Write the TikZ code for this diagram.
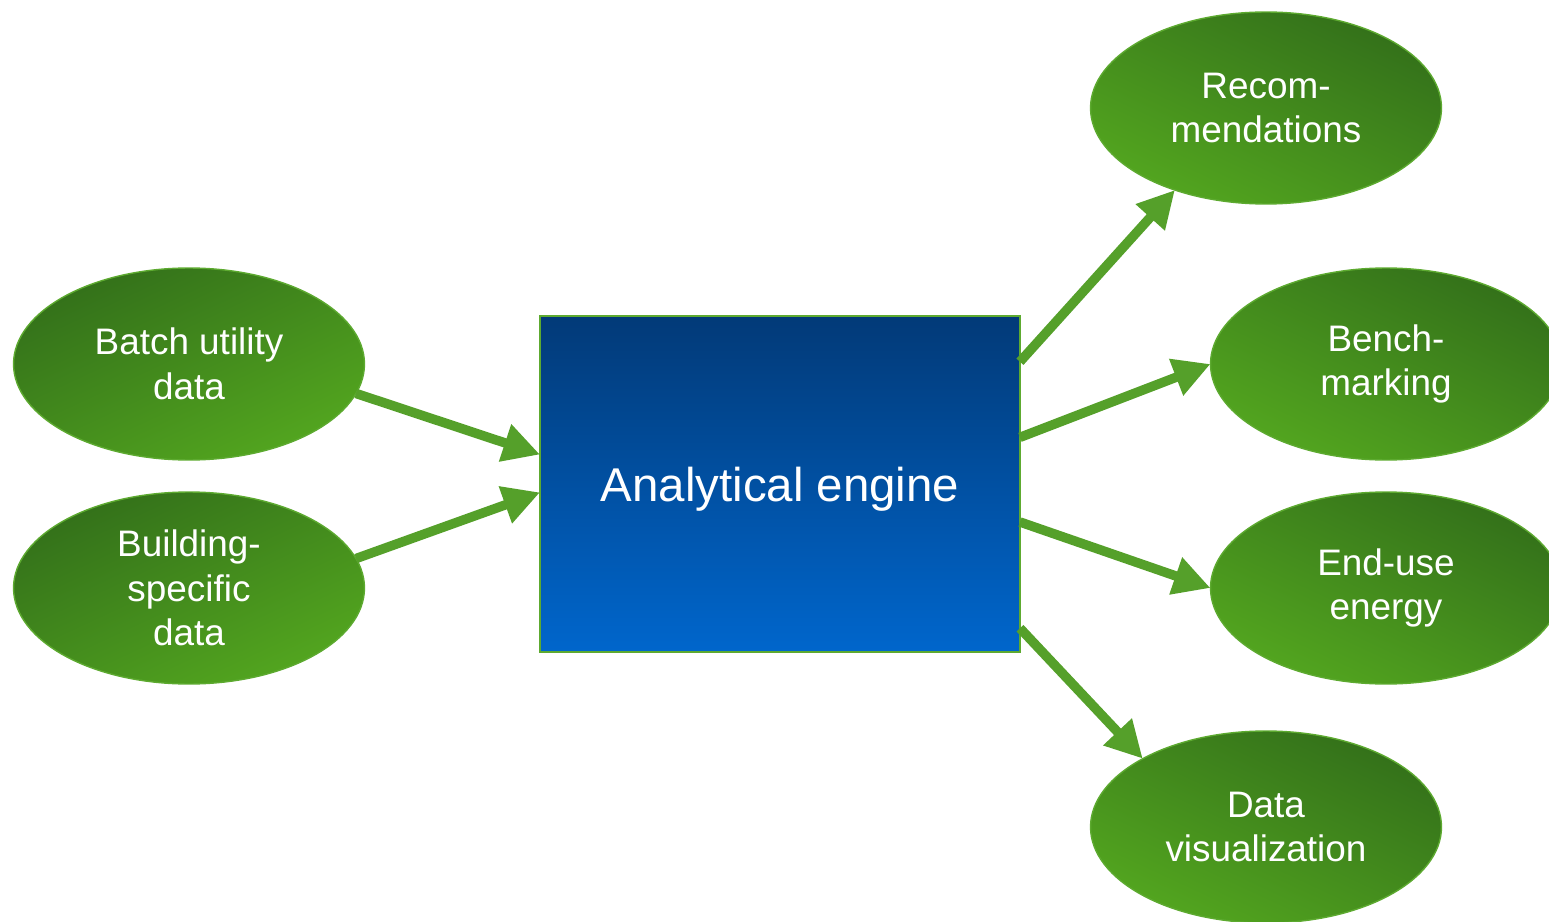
\documentclass[tikz,border=0pt]{standalone}
\usepackage{fontspec}
\setmainfont{Liberation Sans}
\usetikzlibrary{shapes.geometric,arrows.meta}
\definecolor{arrgreen}{HTML}{55A02A}
\definecolor{elldark}{HTML}{33701A}
\definecolor{elllight}{HTML}{53A61F}
\definecolor{ellborder}{HTML}{5DAA30}
\definecolor{recttop}{HTML}{023A78}
\definecolor{rectbottom}{HTML}{0066CC}
\tikzset{
  ellnode/.style={ellipse, draw=ellborder, line width=0.8pt, inner sep=0pt, outer sep=0pt,
    minimum width=7.02cm, minimum height=3.84cm, text=white, align=center,
    font=\fontsize{21}{25.5}\selectfont},
  leftell/.style={ellnode, top color=elldark, bottom color=elllight, shading angle=25},
  rightell/.style={ellnode, top color=elldark, bottom color=elllight, shading angle=-25},
  enginebox/.style={rectangle, draw=ellborder, line width=1pt, inner sep=0pt, outer sep=0pt,
    minimum width=9.6cm, minimum height=6.72cm, top color=recttop, bottom color=rectbottom,
    text=white, font=\fontsize{27}{32}\selectfont, text height=25pt, text depth=5.5pt},
  arr/.style={draw=arrgreen, line width=5.4pt,
    -{Triangle[length=21pt,width=21pt,fill=arrgreen]}}
}
\begin{document}
\begin{tikzpicture}[x=0.02cm,y=-0.02cm]
\useasboundingbox (0,0) rectangle (1549,922);
\clip (0,0) rectangle (1549,922);
\node[leftell] (batch) at (189,364) {Batch utility\\data};
\node[leftell] (building) at (189,588) {Building-\\specific\\data};
\node[rightell] (recom) at (1266,108) {Recom-\\mendations};
\node[rightell] (bench) at (1386,364) {Bench-\\marking};
\node[rightell] (enduse) at (1386,588) {End-use\\energy};
\node[rightell] (dataviz) at (1266,827) {Data\\visualization};
\node[enginebox] (engine) at (780,484) {Analytical engine};
\draw[arr] (batch.-10.6) -- (engine.173.1);
\draw[arr] (building.10.2) -- (engine.-178.6);
\draw[arr] (engine.27.7) -- (recom.-138.4);
\draw[arr] (engine.11.3) -- (bench.180);
\draw[arr] (engine.-9.9) -- (enduse.180);
\draw[arr] (engine.-31) -- (dataviz.151.8);
\end{tikzpicture}
\end{document}
